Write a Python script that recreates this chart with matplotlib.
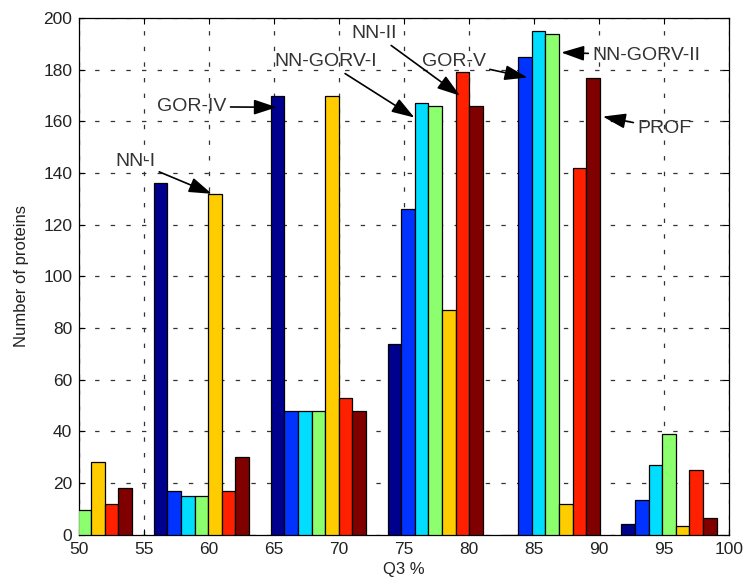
import matplotlib
matplotlib.use("Agg")
import matplotlib.pyplot as plt
import numpy as np

# ---- data ----
group_centers = [50.4, 59.4, 68.4, 77.4, 86.4, 95.4]
series_names = ['GOR-IV', 'GOR-V', 'NN-GORV-I', 'NN-GORV-II', 'NN-I', 'NN-II', 'PROF']
gor_iv      = [0, 136, 170, 74, 0, 4]
gor_v       = [0, 17, 48, 126, 185, 13.5]
nn_gorv_i   = [0, 15, 48, 167, 195, 27]
nn_gorv_ii  = [9.5, 15, 48, 166, 194, 39]
nn_i        = [28, 132, 170, 87, 12, 3.5]
nn_ii       = [12, 17, 53, 179, 142, 25]
prof        = [18, 30, 48, 166, 177, 6.5]
x_ticks = [50, 55, 60, 65, 70, 75, 80, 85, 90, 95, 100]
y_ticks = [0, 20, 40, 60, 80, 100, 120, 140, 160, 180, 200]

series = [gor_iv, gor_v, nn_gorv_i, nn_gorv_ii, nn_i, nn_ii, prof]
colors = ['#00008F', '#0033FF', '#00DDFF', '#8CFF6E', '#FFCC00', '#FF2000', '#800000']

plt.rcParams['font.family'] = ['Liberation Sans', 'DejaVu Sans']

fig = plt.figure(figsize=(7.46, 5.85), dpi=100)
ax = fig.add_axes([0.1063, 0.0858, 0.8707, 0.8832])

bw = 1.047
n = len(series)
centers = np.array(group_centers)
for i, (vals, c) in enumerate(zip(series, colors)):
    offs = (i - (n - 1) / 2) * bw
    ax.bar(centers + offs, vals, width=bw, color=c, edgecolor='black',
           linewidth=0.9, zorder=3, label=series_names[i])

ax.set_xlim(50, 100)
ax.set_ylim(0, 200)
ax.set_xticks(x_ticks)
ax.set_yticks(y_ticks)
ax.tick_params(direction='in', top=True, right=True, labelsize=12.5, length=4,
               labelcolor='#222222')
ax.tick_params(axis='x', pad=5)
ax.tick_params(axis='y', pad=5)
ax.grid(True, linestyle=(0, (3.5, 9)), color='#333333', linewidth=0.9)
ax.set_axisbelow(True)
for s in ax.spines.values():
    s.set_linewidth(0.9)

ax.set_xlabel('Q3 %', fontsize=12, labelpad=4, color='#222222')
ax.set_ylabel('Number of proteins', fontsize=12, labelpad=10, color='#222222')

ann_kw = dict(arrowprops=dict(arrowstyle='-|>,head_length=1.0,head_width=0.33',
                              color='black', lw=1.2, shrinkA=1, shrinkB=0),
              fontsize=14, color='#333333', va='center', ha='left', zorder=5)
annots = [
    ('NN-I', (60.2, 132), (52.75, 144.4)),
    ('GOR-IV', (65.2, 165.5), (55.98, 165.7)),
    ('NN-GORV-I', (75.8, 161.5), (65.05, 183.2)),
    ('NN-II', (79.3, 170), (70.98, 194.1)),
    ('GOR-V', (84.5, 177), (76.36, 183.2)),
    ('NN-GORV-II', (87.1, 186.7), (89.5, 185.6)),
    ('PROF', (90.3, 161.9), (92.97, 157.2)),
]
for txt, xy, xytext in annots:
    ax.annotate(txt, xy=xy, xytext=xytext, **ann_kw)

fig.savefig('out.png', dpi=100)
